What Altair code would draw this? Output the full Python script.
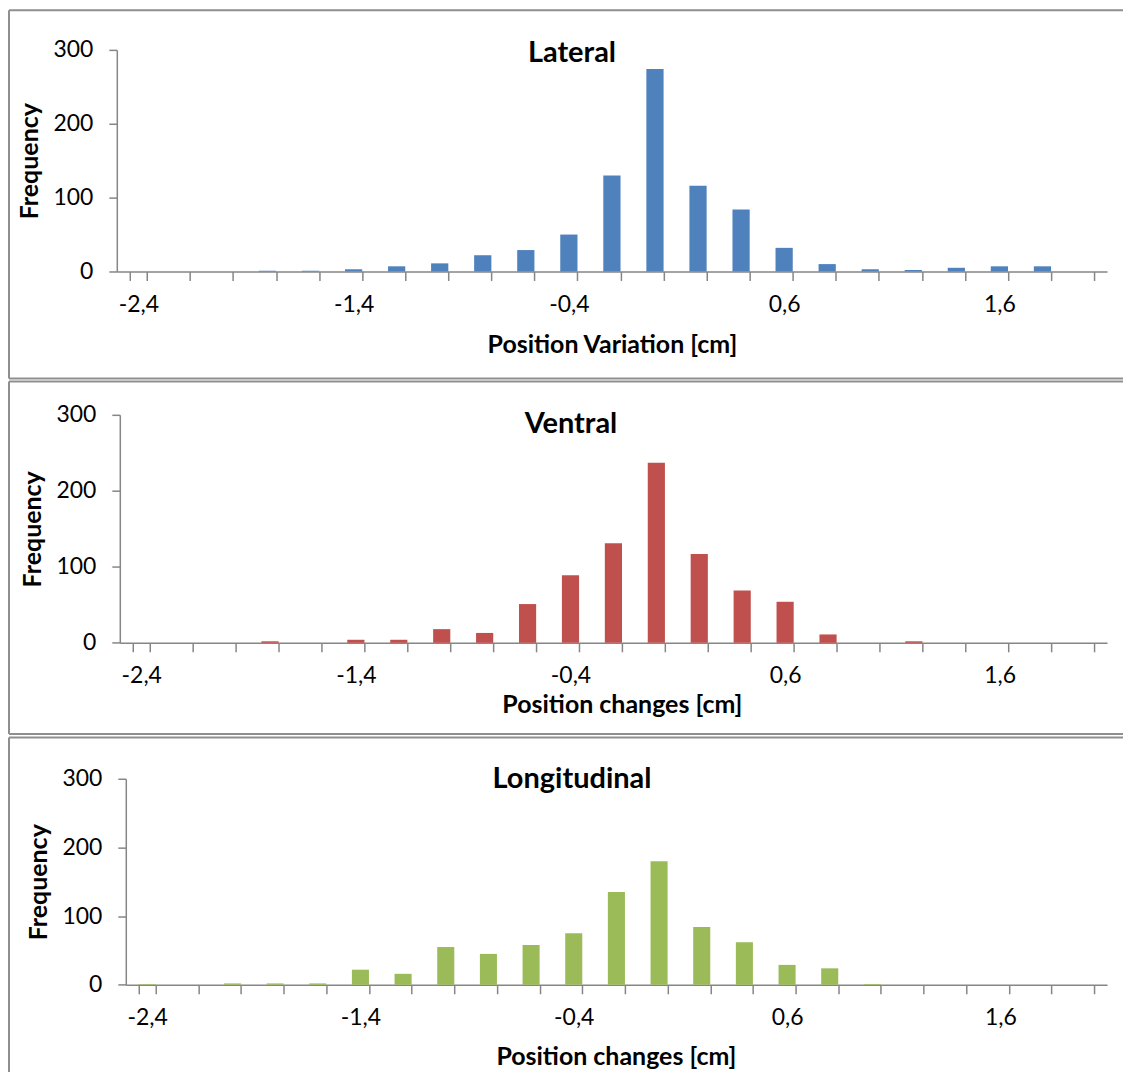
import altair as alt
import pandas as pd

# ---------------- data ----------------
bins = ["-2,4", "-2,2", "-2,0", "-1,8", "-1,6", "-1,4", "-1,2", "-1,0", "-0,8", "-0,6",
        "-0,4", "-0,2", "0,0", "0,2", "0,4", "0,6", "0,8", "1,0", "1,2", "1,4",
        "1,6", "1,8", "2,0"]
shown_labels = ["-2,4", "-1,4", "-0,4", "0,6", "1,6"]

lateral = [0, 0, 0, 1, 1, 3, 7, 11, 22, 29, 50, 130, 274, 116, 84, 32, 10, 3, 2, 5, 7, 7, 0]
ventral = [0, 0, 0, 2, 0, 4, 4, 18, 13, 51, 89, 131, 237, 117, 69, 54, 11, 0, 2, 0, 0, 0, 0]
longitudinal = [1, 0, 2, 2, 2, 22, 16, 55, 45, 58, 75, 135, 180, 84, 62, 29, 24, 1, 0, 0, 0, 0, 0]

y_ticks = [0, 100, 200, 300]

FONT = "Lato"
AXIS_COLOR = "#868686"
BORDER = "#8f8f8f"
W = 992

label_expr = "indexof(%s, datum.value) >= 0 ? datum.value : ''" % str(shown_labels)
deco = pd.DataFrame({"k": [0]})


def hline(y, x1, x2):
    return alt.Chart(deco).mark_rule(color=BORDER, strokeWidth=2).encode(
        x=alt.value(x1), x2=alt.value(x2), y=alt.value(y))


def vline(x, y1, y2):
    return alt.Chart(deco).mark_rule(color=BORDER, strokeWidth=2).encode(
        x=alt.value(x), y=alt.value(y1), y2=alt.value(y2))


def panel(values, color, title, xtitle, height, top_pad, shift, title_pos, xt_pad, xt_x, lines):
    df = pd.DataFrame({"bin": bins, "count": values})
    bars = alt.Chart(df).mark_bar(color=color).encode(
        x=alt.X("bin:O", sort=bins,
                scale=alt.Scale(range=[shift, W], paddingInner=0.6, paddingOuter=0.3),
                axis=alt.Axis(title=xtitle, labelExpr=label_expr, labelAngle=0,
                              tickBand="extent", tickSize=9, labelPadding=13,
                              titlePadding=xt_pad, titleX=xt_x)),
        y=alt.Y("count:Q",
                scale=alt.Scale(domain=[0, 300], nice=False, range=[height, top_pad]),
                axis=alt.Axis(title="Frequency", values=y_ticks, grid=False,
                              offset=-shift, tickSize=8, labelPadding=16,
                              titlePadding=10)),
    )
    ttl = alt.Chart(deco).mark_text(
        text=title, font=FONT, fontSize=29, fontWeight="bold", align="center",
        baseline="alphabetic", color="black").encode(
        x=alt.value(title_pos[0]), y=alt.value(title_pos[1]))
    return alt.layer(bars, ttl, *lines).properties(width=W, height=height)


# panel 1: plot top at page y 47.7, height 222
p1 = panel(lateral, "#4F81BD", "Lateral", "Position Variation [cm]", 222, 0, 0,
           (456, 11.8), 16, 496,
           [hline(-39.7, -108, 1008), hline(329.3, -108, 1008), vline(-108, -39.7, 329.3)])
# panel 2: group top at page y 405.3, plot top 413.3
p2 = panel(ventral, "#C0504D", "Ventral", "Position changes [cm]", 236.4, 8, 3,
           (455, 26.4), 5, 506,
           [hline(-25.3, -108, 1008), hline(327.7, -108, 1008), vline(-108, -25.3, 327.7)])
# panel 3: group top at page y 777.3
p3 = panel(longitudinal, "#9BBB59", "Longitudinal", "Position changes [cm]", 206.4, 0, 9,
           (456, 9.4), 15, 500,
           [hline(-41.3, -108, 1008), vline(-108, -41.3, 293.7)])

chart = alt.vconcat(p1, p2, p3, spacing=135.6, bounds="flush").properties(
    padding=0
).configure_view(stroke=None).configure_axis(
    labelFont=FONT, labelFontSize=23, labelColor="black",
    titleFont=FONT, titleFontSize=25, titleFontWeight="bold", titleColor="black",
    domainColor=AXIS_COLOR, tickColor=AXIS_COLOR, domainWidth=1.5, tickWidth=1.5,
)

chart.save("out.html", embed_options={"renderer": "svg", "actions": False})
